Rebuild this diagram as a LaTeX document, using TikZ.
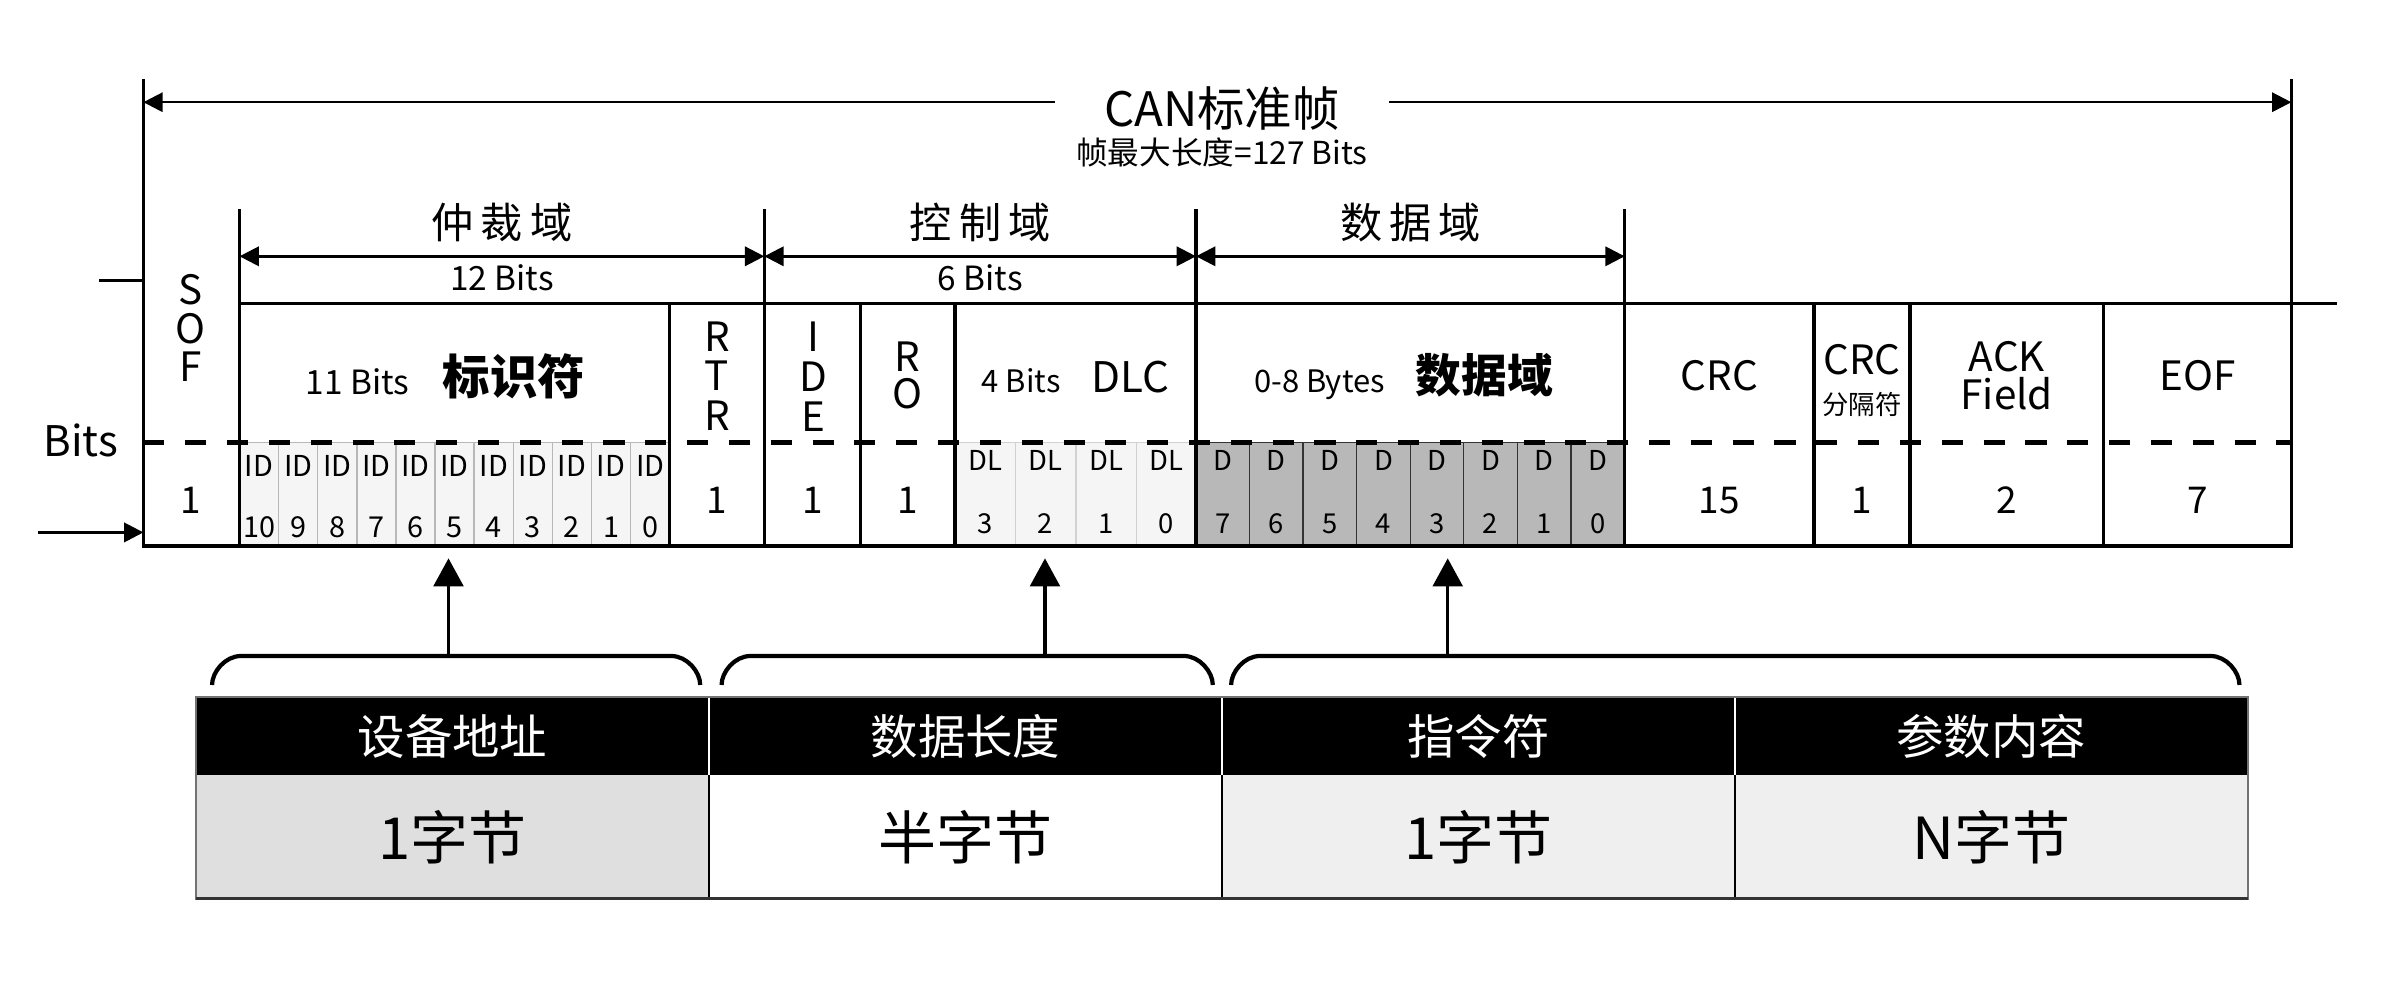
\documentclass[tikz,border=0pt]{standalone}
\usepackage{fontspec}
\setmainfont{Noto Sans CJK SC}
\usetikzlibrary{arrows.meta}

\definecolor{idfill}{HTML}{F4F5F4}
\definecolor{dfill}{HTML}{B7B8B7}
\definecolor{addrfill}{HTML}{DEDFDE}
\definecolor{cmdfill}{HTML}{EFEFEF}

\newcommand{\fs}[1]{\fontsize{#1}{#1}\selectfont}

\tikzset{
  frame/.style={line width=1pt},
  dimline/.style={line width=0.7pt,{Triangle[length=5.5pt,width=5.5pt]}-{Triangle[length=5.5pt,width=5.5pt]}},
  inarrow/.style={line width=0.8pt,-{Triangle[length=5.5pt,width=5.5pt]}},
  sepline/.style={line width=1.2pt,dash pattern=on 6pt off 5.9pt},
  uparrow/.style={line width=0.9pt,-{Triangle[length=8pt,width=8.5pt]}},
  brace/.style={line width=1.2pt},
  idcell/.style={fill=idfill,draw=black!28,line width=0.4pt},
  dlcell/.style={fill=idfill,draw=black!18,line width=0.4pt},
  dcell/.style={fill=dfill,draw=black!80,line width=0.4pt},
  bittext/.style={align=center,inner sep=0pt,font=\fontsize{8.2}{17.2}\selectfont},
  fieldtext/.style={align=center,inner sep=0pt,font=\fontsize{11.5}{11}\selectfont},
  numtext/.style={inner sep=0pt,font=\fs{10.5}},
  domtext/.style={inner sep=0pt,font=\fs{12}},
  bitstext/.style={inner sep=0pt,font=\fs{9.5}},
  headtext/.style={inner sep=0pt,text=white,font=\fs{13.5}},
  bodytext/.style={inner sep=0pt,font=\fs{16.5}},
}

\begin{document}
\begin{tikzpicture}[x=0.15255mm,y=-0.15255mm]
  \useasboundingbox (0,0) rectangle (1568,653);

  % frame length
  \coordinate (fl) at (94,67);
  \coordinate (fr) at (1502,67);
  \draw[dimline] (fl) -- (fr);
  \node[fill=white,inner xsep=14pt,inner ysep=1pt,font=\fs{13.5}] (title) at (801,71) {CAN标准帧};
  \node[inner sep=0pt,font=\fs{9}] (subtitle) at (801,100) {帧最大长度=127 Bits};

  % bit cells
  \foreach \i in {0,...,10}{
    \pgfmathtruncatemacro\n{10-\i}
    \draw[idcell] ({157+25.64*\i},290) rectangle ++(25.64,68);
    \node[bittext] (id\n) at ({157+25.64*(\i+0.5)},325.5) {ID\\\n};
  }
  \foreach \i in {0,...,3}{
    \pgfmathtruncatemacro\n{3-\i}
    \draw[dlcell] ({626+39.6*\i},290) rectangle ++(39.6,68);
    \node[bittext,font=\fontsize{7.8}{17.8}\selectfont] (dl\n) at ({626+39.6*(\i+0.5)},322.5) {DL\\\n};
  }
  \foreach \i in {0,...,7}{
    \pgfmathtruncatemacro\n{7-\i}
    \draw[dcell] ({784+35.1*\i},290) rectangle ++(35.1,68);
    \node[bittext,font=\fontsize{7.8}{17.8}\selectfont] (d\n) at ({784+35.1*(\i+0.5)},322.5) {D\\\n};
  }

  \draw[sepline] (94,290) -- (1502,290);

  % table lines
  \draw[frame] (94,52) -- (94,358) -- (1502,358) -- (1502,52);
  \draw[frame] (157,199) -- (1532,199);
  \draw[frame] (65,184) -- (94,184);
  \foreach \x in {157,501,784,1065} \draw[frame] (\x,137) -- (\x,358);
  \foreach \x in {439,564,626,1189,1252,1379} \draw[frame] (\x,199) -- (\x,358);

  % domains
  \draw[dimline] (157,168) -- (501,168);
  \draw[dimline] (501,168) -- (784,168);
  \draw[dimline] (784,168) -- (1065,168);
  \node[domtext] (arb) at (329,146) {仲\hspace{2pt}裁\hspace{2pt}域};
  \node[bitstext] (arbbits) at (329,182) {12 Bits};
  \node[domtext] (ctrl) at (642.5,146) {控\hspace{2pt}制\hspace{2pt}域};
  \node[bitstext] (ctrlbits) at (642.5,182) {6 Bits};
  \node[domtext] (data) at (924.5,146) {数\hspace{2pt}据\hspace{2pt}域};

  % fields
  \node[fieldtext] (sof) at (125,215) {S\\O\\F};
  \node[inner sep=0pt] (ident) at (292,247) {\fs{9.5}11 Bits\quad{\fs{13.5}\bfseries 标识符}};
  \node[fieldtext,font=\fontsize{11.5}{11.3}\selectfont] (rtr) at (470,246.5) {R\\T\\R};
  \node[fieldtext,font=\fontsize{11.5}{11.3}\selectfont] (ide) at (533,247) {I\\D\\E};
  \node[fieldtext,font=\fontsize{11.5}{10.5}\selectfont] (rzero) at (595,246) {R\\O};
  \node[inner sep=0pt] (dlc) at (705,247) {\fs{8.8}4 Bits\quad{\fs{12}DLC}};
  \node[inner sep=0pt] (dfield) at (920,247) {\fs{8.8}0-8 Bytes\quad{\fs{13}\bfseries 数据域}};
  \node[fieldtext] (crc) at (1127,246) {CRC};
  \node[fieldtext] (delim) at (1220.5,236) {CRC};
  \node[inner sep=0pt,font=\fs{7.5}] (delimcn) at (1220.5,265) {分隔符};
  \node[fieldtext,font=\fontsize{11.5}{10.8}\selectfont] (ack) at (1315.5,246.5) {ACK\\Field};
  \node[fieldtext] (eof) at (1440.5,246) {EOF};

  % bit counts
  \node[numtext] (nsof) at (125,328) {1};
  \node[numtext] (nrtr) at (470,328) {1};
  \node[numtext] (nide) at (533,328) {1};
  \node[numtext] (nrzero) at (595,328) {1};
  \node[numtext] (ncrc) at (1127,328) {15};
  \node[numtext] (ndelim) at (1220.5,328) {1};
  \node[numtext] (nack) at (1315.5,328) {2};
  \node[numtext] (neof) at (1440.5,328) {7};

  % left scale
  \node[inner sep=0pt,font=\fs{12}] (bits) at (53,289) {Bits};
  \coordinate (entry) at (25,349);
  \draw[inarrow] (entry) -- (94,349);

  % braces and arrows
  \coordinate (b1) at (294,430);
  \coordinate (b2) at (685,430);
  \coordinate (b3) at (949,430);
  \coordinate (tip) at (0,366);
  \foreach \l/\r/\m in {139/459/b1,473/795/b2,807/1468/b3}{
    \draw[brace] (\l,449) .. controls (\l,440.5) and (\l+8.5,430) .. (\l+19,430) -- (\m)
      -- (\r-19,430) .. controls (\r-8.5,430) and (\r,440.5) .. (\r,449);
    \draw[uparrow] (\m) -- (\m |- tip);
  }

  % protocol table
  \foreach \i/\txt/\val/\col in {1/设备地址/1字节/addrfill,2/数据长度/半字节/white,3/指令符/1字节/cmdfill,4/参数内容/N字节/cmdfill}{
    \pgfmathsetmacro\xa{128.5+336.25*(\i-1)}
    \pgfmathsetmacro\xb{\xa+336.25}
    \fill[black] (\xa,457) rectangle (\xb,508);
    \fill[\col] (\xa,508) rectangle (\xb,589);
    \node[headtext] (h\i) at ({(\xa+\xb)/2},483) {\txt};
    \node[bodytext] (c\i) at ({(\xa+\xb)/2},549) {\val};
  }
  \foreach \x in {464.75,801,1137.25}{
    \draw[white,line width=0.5pt] (\x,457) -- (\x,508);
    \draw[black,line width=0.5pt] (\x,508) -- (\x,589);
  }
  \draw[black!55,line width=0.6pt] (128.5,457) rectangle (1473.5,589);
  \draw[black!80,line width=1pt] (128.5,589) -- (1473.5,589);
\end{tikzpicture}
\end{document}
